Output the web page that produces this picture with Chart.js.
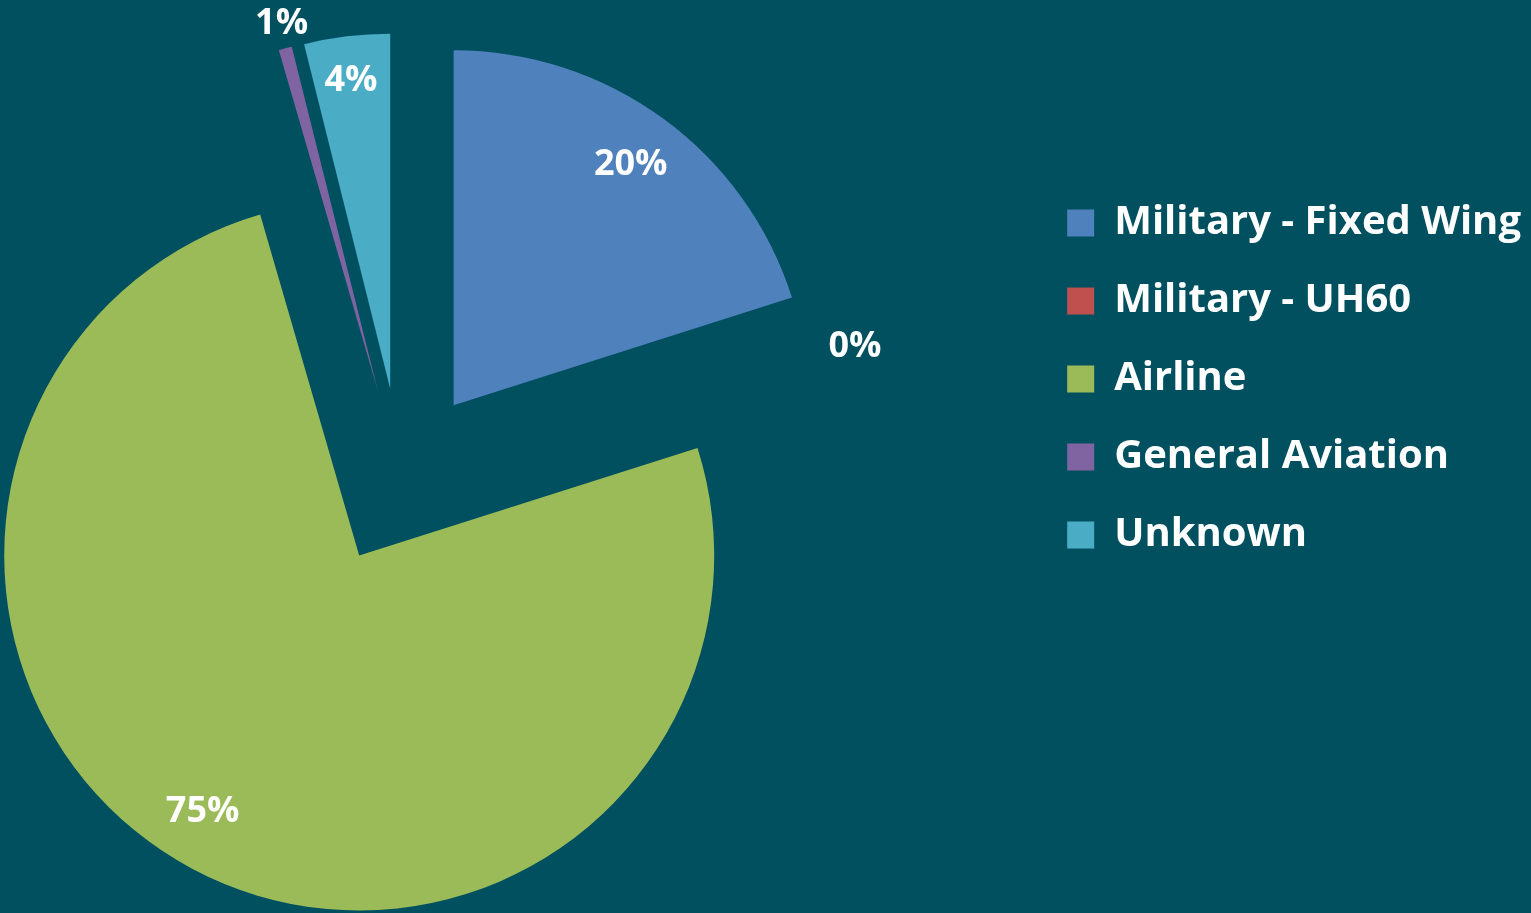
<!DOCTYPE html>
<html><head><meta charset="utf-8">
<script src="https://cdn.jsdelivr.net/npm/chart.js@4.4.1/dist/chart.umd.min.js"></script>
<style>
html,body{margin:0;padding:0;background:#00505F;overflow:hidden;width:1531px;height:913px}
#wrap{position:absolute;top:0;height:913px}
</style></head><body>
<div id="wrap"><canvas id="c"></canvas></div>
<script>
const categories = ['Military - Fixed Wing', 'Military - UH60', 'Airline', 'General Aviation', 'Unknown'];
const shares = [20.1, 0, 75.4, 0.6, 3.9];
const sliceColors = ['#4F81BD', '#C0504D', '#9BBB59', '#8064A2', '#4BACC6'];
// label placement (style): radial factor and angular nudge in degrees
const labelRadius = [0.845, 1.081, 0.84, 1.075, 0.88];
const labelNudge = [0.0, 1.7, 3.6, 0.5, -0.2];

const EXPLODE = 89;
const PIE_RADIUS = 355;
const PIE_CX = 401;
const LEG_FONT = 40, LBL_FONT = 36;
const FONT_FAMILY = "'Open Sans'";
const LEG_PAD = 38, LEG_BOX = 27;
const TEXT_X = 1114;

const mctx = document.createElement('canvas').getContext('2d');
mctx.font = 'bold ' + LEG_FONT + 'px ' + FONT_FAMILY;
const maxTextW = Math.max(...categories.map(c => mctx.measureText(c).width));
const legendW = LEG_PAD + LEG_BOX + LEG_FONT / 2 + maxTextW + 10;
const legendLeft = TEXT_X - LEG_BOX - LEG_FONT / 2 - LEG_PAD;
const shift = legendLeft - 2 * PIE_CX;
const canvasW = Math.round(legendLeft + shift + legendW);
const wrap = document.getElementById('wrap');
wrap.style.left = (-shift) + 'px';
wrap.style.width = canvasW + 'px';

const explodePlugin = {
  id: 'explode',
  afterDatasetsUpdate(chart) {
    chart.getDatasetMeta(0).data.forEach(arc => {
      const mid = (arc.startAngle + arc.endAngle) / 2;
      arc.x += Math.cos(mid) * EXPLODE;
      arc.y += Math.sin(mid) * EXPLODE;
    });
  }
};

const labelPlugin = {
  id: 'pctLabels',
  afterDatasetsDraw(chart) {
    const ctx = chart.ctx;
    const meta = chart.getDatasetMeta(0);
    const total = shares.reduce((a, b) => a + b, 0);
    ctx.save();
    ctx.font = 'bold ' + LBL_FONT + 'px ' + FONT_FAMILY;
    ctx.fillStyle = '#ffffff';
    ctx.textAlign = 'center';
    ctx.textBaseline = 'middle';
    meta.data.forEach((arc, i) => {
      const mid = (arc.startAngle + arc.endAngle) / 2 + labelNudge[i] * Math.PI / 180;
      const r = arc.outerRadius * labelRadius[i];
      ctx.fillText(Math.round(shares[i] / total * 100) + '%',
        arc.x + Math.cos(mid) * r, arc.y + Math.sin(mid) * r + 2);
    });
    ctx.restore();
  }
};

new Chart(document.getElementById('c'), {
  type: 'pie',
  data: {
    labels: categories,
    datasets: [{ data: shares, backgroundColor: sliceColors, borderWidth: 0 }]
  },
  options: {
    responsive: true,
    maintainAspectRatio: false,
    animation: false,
    radius: PIE_RADIUS,
    layout: { padding: { left: 0, right: 0, top: 165, bottom: 124 } },
    plugins: {
      tooltip: { enabled: false },
      legend: {
        position: 'right',
        align: 'start',
        labels: {
          color: '#ffffff',
          font: { family: FONT_FAMILY, weight: 'bold', size: LEG_FONT },
          boxWidth: LEG_BOX,
          boxHeight: LEG_BOX,
          padding: LEG_PAD
        }
      }
    }
  },
  plugins: [explodePlugin, labelPlugin]
});
</script>
</body></html>
